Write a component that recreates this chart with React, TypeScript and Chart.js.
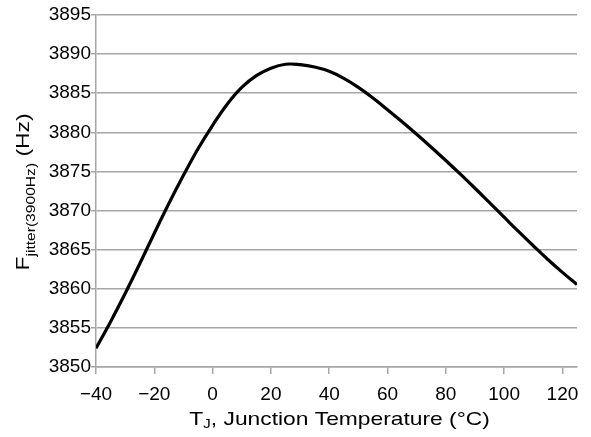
import React, { useEffect, useRef } from "react";
import { Chart, registerables } from "chart.js";

Chart.register(...registerables);

// Junction temperature (°C)
const temps = [
  -40, -35, -30, -25, -20, -15, -10, -5, 0, 5, 10, 15, 20, 25, 30, 35, 40, 45, 50,
  55, 60, 65, 70, 75, 80, 85, 90, 95, 100, 105, 110, 115, 120, 125,
];
// F_jitter(3900Hz) (Hz)
const fJitter = [
  3852.4, 3855.8, 3859.4, 3863.2, 3867.1, 3870.9, 3874.5, 3877.9, 3880.9, 3883.6,
  3885.75, 3887.25, 3888.2, 3888.7, 3888.65, 3888.35, 3887.8, 3886.9, 3885.75, 3884.4,
  3882.9, 3881.35, 3879.75, 3878.1, 3876.4, 3874.65, 3872.85, 3871.0, 3869.15, 3867.3,
  3865.5, 3863.75, 3862.1, 3860.55,
];
const xTickValues = [-40, -20, 0, 20, 40, 60, 80, 100, 120];
const yTickValues = [3850, 3855, 3860, 3865, 3870, 3875, 3880, 3885, 3890, 3895];

const xTitleParts = [
  { text: "T", sub: false },
  { text: "J", sub: true },
  { text: ", Junction Temperature (°C)", sub: false },
];
const yTitleParts = [
  { text: "F", sub: false },
  { text: "jitter(3900Hz)", sub: true },
  { text: " (Hz)", sub: false },
];

const FONT = "'Liberation Sans', Arial, sans-serif";
const GRID = "#a6a6a6";

function drawRich(
  ctx: CanvasRenderingContext2D,
  parts: { text: string; sub: boolean }[],
  mainSize: number,
  subSize: number,
  subShift: number,
  stretch: number
) {
  const fontOf = (p: { sub: boolean }) => `${p.sub ? subSize : mainSize}px ${FONT}`;
  let total = 0;
  for (const p of parts) {
    ctx.font = fontOf(p);
    total += ctx.measureText(p.text).width;
  }
  ctx.scale(stretch, 1);
  let x = -total / 2;
  ctx.textAlign = "left";
  ctx.textBaseline = "alphabetic";
  for (const p of parts) {
    ctx.font = fontOf(p);
    ctx.fillText(p.text, x, p.sub ? subShift : 0);
    x += ctx.measureText(p.text).width;
  }
}

const axisTitles = {
  id: "axisTitles",
  afterDraw(chart: any) {
    const ctx: CanvasRenderingContext2D = chart.ctx;
    const a = chart.chartArea;
    ctx.save();
    ctx.fillStyle = "#000";
    ctx.translate((a.left + a.right) / 2 + 3, 425);
    drawRich(ctx, xTitleParts, 19, 13, 2.5, 1.2);
    ctx.restore();

    ctx.save();
    ctx.fillStyle = "#000";
    ctx.translate(28.5, 192);
    ctx.rotate(-Math.PI / 2);
    drawRich(ctx, yTitleParts, 19, 13, 6.5, 1.2);
    ctx.restore();
  },
};

const fmt = (v: number) => (v < 0 ? "\u2212" + Math.abs(v) : String(v));

export default function App() {
  const ref = useRef<HTMLCanvasElement | null>(null);
  useEffect(() => {
    if (!ref.current) return;
    const chart = new Chart(ref.current, {
      type: "line",
      data: {
        datasets: [
          {
            data: temps.map((t, i) => ({ x: t, y: fJitter[i] })),
            borderColor: "#000",
            borderWidth: 3.2,
            pointRadius: 0,
            tension: 0.4,
            fill: false,
          },
        ],
      },
      options: {
        animation: false,
        responsive: false,
        devicePixelRatio: 1,
        layout: { padding: { top: 15, right: 14, left: 0, bottom: 0 } },
        plugins: { legend: { display: false }, tooltip: { enabled: false } },
        scales: {
          x: {
            type: "linear",
            min: -40,
            max: 125,
            position: "bottom",
            afterBuildTicks: (s: any) => {
              s.ticks = xTickValues.map((v) => ({ value: v }));
            },
            afterFit: (s: any) => {
              s.height = 70;
            },
            ticks: {
              font: { family: FONT, size: 19 },
              color: "#000",
              padding: 9,
              maxRotation: 0,
              autoSkip: false,
              callback: (v: any) => fmt(Number(v)),
            },
            grid: {
              drawOnChartArea: false,
              drawTicks: true,
              tickLength: 7,
              color: GRID,
              lineWidth: 1.5,
            },
            border: { display: true, color: GRID, width: 1.5 },
          },
          y: {
            type: "linear",
            min: 3850,
            max: 3895,
            afterBuildTicks: (s: any) => {
              s.ticks = yTickValues.map((v) => ({ value: v }));
            },
            afterFit: (s: any) => {
              s.width = 96;
            },
            ticks: {
              font: { family: FONT, size: 19 },
              color: "#000",
              padding: 0,
              autoSkip: false,
              callback: (v: any) => String(v),
            },
            grid: {
              drawTicks: true,
              tickLength: 5,
              color: GRID,
              lineWidth: 1.5,
            },
            border: { display: true, color: GRID, width: 1.5 },
          },
        },
      },
      plugins: [axisTitles],
    } as any);
    return () => chart.destroy();
  }, []);
  return (
    <div style={{ position: "absolute", left: 0, top: 0, width: 591, height: 437, background: "#fff" }}>
      <canvas ref={ref} width={591} height={437} />
    </div>
  );
}
